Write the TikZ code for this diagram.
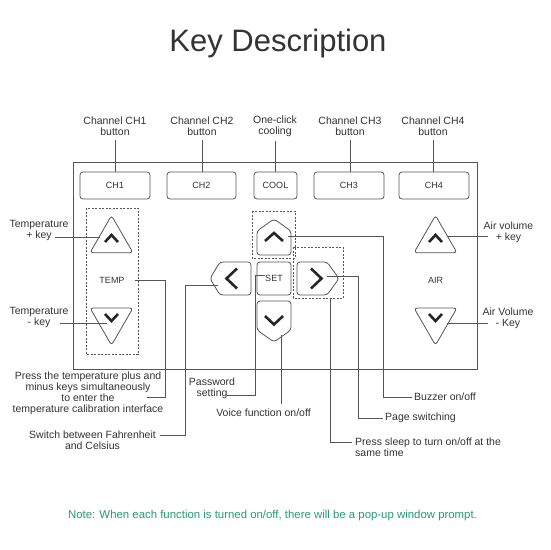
\documentclass[tikz,border=0pt]{standalone}
\usepackage{fontspec}
\setmainfont{Liberation Sans}
\usetikzlibrary{positioning,shapes.geometric,calc}
\definecolor{inkgray}{HTML}{333333}
\definecolor{linegray}{HTML}{555555}
\definecolor{notegreen}{RGB}{38,155,115}

\begin{document}
\begin{tikzpicture}
  [x=1pt,y=-1pt,
   every node/.style={text=inkgray},
   lbl/.style={font=\fontsize{10.5}{11}\selectfont, align=center, inner sep=0pt},
   btn/.style={draw=linegray, line width=0.8pt, rounded corners=3pt, minimum height=27pt,
               inner sep=0pt, font=\fontsize{9}{10}\selectfont},
   tri/.style={draw=linegray, line width=0.8pt, regular polygon, regular polygon sides=3,
               minimum size=49.6pt, inner sep=0pt, rounded corners=3pt},
   keyline/.style={draw=linegray, line width=0.8pt, rounded corners=3pt},
   chev/.style={draw=black!85, line width=2.6pt},
   leader/.style={draw=linegray, line width=0.7pt},
   dbox/.style={draw=linegray, line width=0.7pt, dash pattern=on 2pt off 1.5pt}]

  \useasboundingbox (0,0) rectangle (550,550);
  \fill[white] (0,0) rectangle (550,550);

  % title
  \node[font=\fontsize{31}{33}\selectfont] (title) at (278,43) {Key Description};

  % panel
  \draw[keyline, rounded corners=0] (73,162) rectangle (477,369);

  % channel buttons
  \node[btn, minimum width=70pt] (ch1)  at (115,185.5)   {CH1};
  \node[btn, minimum width=69pt] (ch2)  at (201.5,185.5) {CH2};
  \node[btn, minimum width=43pt] (cool) at (275.5,185.5) {COOL};
  \node[btn, minimum width=70pt] (ch3)  at (349,185.5)   {CH3};
  \node[btn, minimum width=70pt] (ch4)  at (434,185.5)   {CH4};

  \node[lbl] (l_ch1)  at (115,126) {Channel CH1\\button};
  \node[lbl] (l_ch2)  at (202,126) {Channel CH2\\button};
  \node[lbl] (l_cool) at (275,126) {One-click\\cooling};
  \node[lbl] (l_ch3)  at (350,126) {Channel CH3\\button};
  \node[lbl] (l_ch4)  at (433,126) {Channel CH4\\button};

  \foreach \a/\b in {l_ch1/ch1, l_ch2/ch2, l_cool/cool, l_ch3/ch3, l_ch4/ch4}
    \draw[leader, shorten <=4pt] (\a.south) -- (\a.south |- \b.north);

  % temperature keys
  \draw[dbox] (86,208) rectangle (138,354);
  \node[tri] (t_up) at (111.5,240.3) {};
  \node[tri, shape border rotate=180] (t_dn) at (111.5,320.4) {};
  \draw[chev] (105,242) -- (111.5,235) -- (118,242);
  \draw[chev] (105,314) -- (111.5,321) -- (118,314);
  \node[font=\fontsize{9}{10}\selectfont] (temp) at (112,280) {TEMP};

  % air keys
  \node[tri] (a_up) at (435.5,240.3) {};
  \node[tri, shape border rotate=180] (a_dn) at (435.5,320.4) {};
  \draw[chev] (429,242) -- (435.5,235) -- (442,242);
  \draw[chev] (429,314) -- (435.5,321) -- (442,314);
  \node[font=\fontsize{9}{10}\selectfont] (air) at (435.5,280) {AIR};

  % cross keys
  \draw[dbox] (252,211) rectangle (295,258);
  \draw[dbox] (293,247) rectangle (343,298);
  \draw[keyline] (257,255) -- (257,231) -- (274,219) -- (291,231) -- (291,255) -- cycle;
  \draw[keyline] (251,262) -- (220,262) -- (210,278.5) -- (220,295) -- (251,295) -- cycle;
  \draw[keyline] (297,262) -- (327,262) -- (339,278.5) -- (327,295) -- (297,295) -- cycle;
  \draw[keyline] (257,301) -- (291,301) -- (291,330) -- (274,342) -- (257,330) -- cycle;
  \node[btn, minimum width=34pt, minimum height=33pt] (set) at (274,278.5) {SET};
  \draw[chev] (265,241) -- (274,233) -- (283,241);
  \draw[chev] (237,268.5) -- (226.5,278.5) -- (237,288.5);
  \draw[chev] (311,268.5) -- (321.5,278.5) -- (311,288.5);
  \draw[chev] (265,316) -- (274,324.5) -- (283,316);

  \coordinate (k_up)  at (288,236);
  \coordinate (k_rt)  at (327,276);
  \coordinate (k_set) at (265,275);
  \coordinate (k_dn)  at (281,335);
  \coordinate (k_lt)  at (218,285);
  \coordinate (k_slp) at (330,298);

  % side labels
  \node[lbl] (l_tup) at (39,230.5) {Temperature\\+ key};
  \node[lbl] (l_tdn) at (39,317.5) {Temperature\\- key};
  \node[lbl] (l_aup) at (508.5,232) {Air volume\\+ key};
  \node[lbl] (l_adn) at (508,318) {Air Volume\\- Key};
  \coordinate (e_tup) at (55,237);
  \coordinate (e_tdn) at (60,323);
  \coordinate (e_aup) at (488,236);
  \coordinate (e_adn) at (488,323);
  \draw[leader] (e_tup) -- (e_tup -| t_up.side 1);
  \draw[leader] (e_tdn) -- ++(47,0);
  \draw[leader] ([xshift=11.5pt,yshift=4.3pt]a_up.center) -- (e_aup);
  \draw[leader] ([xshift=11.5pt,yshift=-2.6pt]a_dn.center) -- (e_adn);

  % lower labels
  \node[lbl] (l_cal) at (88,393.5)
    {Press the temperature plus and\\minus keys simultaneously\\to enter the\\temperature calibration interface};
  \node[lbl] (l_sw)  at (92.5,440.5) {Switch between Fahrenheit\\and Celsius};
  \node[lbl] (l_pwd) at (212,388.5) {Password\\setting};
  \node[lbl] (l_voice) at (263.5,413) {Voice function on/off};
  \node[lbl, anchor=west] (l_buz) at (414,397) {Buzzer on/off};
  \node[lbl, anchor=west] (l_page) at (385,418) {Page switching};
  \node[lbl, anchor=west, align=left] (l_slp) at (355,447.5) {Press sleep to turn on/off at the\\same time};
  \coordinate (e_cal) at (147,397);
  \coordinate (e_pwd) at (227,395);

  \draw[leader] ([xshift=7pt]temp.east) -- ++(30,0) |- (e_cal);
  \draw[leader, shorten >=4pt] (k_lt) -- ++(-33,0) |- ([yshift=5.5pt]l_sw.east);
  \draw[leader] (k_set) -- ++(-10,0) |- (e_pwd);
  \draw[leader] (k_dn) -- ([yshift=5pt]k_dn |- l_voice.north);
  \draw[leader, shorten >=2pt] (k_up) -- ++(95,0) |- (l_buz.west);
  \draw[leader, shorten >=2pt] (k_rt) -- ++(31,0) |- (l_page.west);
  \draw[leader, shorten >=3pt] (k_slp) |- ([yshift=5.5pt]l_slp.west);

  % note
  \node[font=\fontsize{11.4}{12}\selectfont, text=notegreen] (note) at (272.5,516)
    {Note: When each function is turned on/off, there will be a pop-up window prompt.};
\end{tikzpicture}
\end{document}
